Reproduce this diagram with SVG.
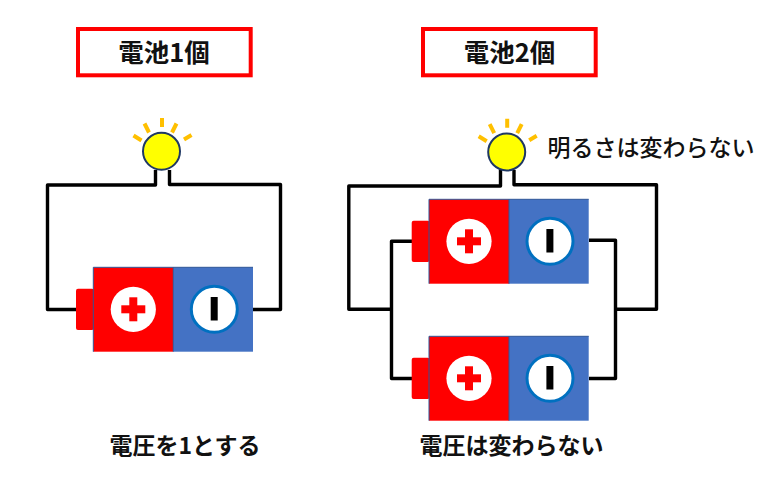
<svg xmlns="http://www.w3.org/2000/svg" width="778" height="482" viewBox="0 0 778 482">
<style>
text{font-family:"Noto Sans CJK JP","Noto Sans CJK SC",sans-serif;fill:#111;font-weight:700}
.title{font-size:25.500px;text-anchor:middle}
.lab{font-size:23px}
.med{font-weight:500}
.box{fill:#fff;stroke:#f00;stroke-width:4}
.wire{fill:none;stroke:#000;stroke-width:3.400;stroke-linejoin:round}
.ray{stroke:#ffc000;stroke-width:4;fill:none}
.bulb{fill:#ff0;stroke:#1f3864;stroke-width:2}
</style>
<defs>
<g id="battery">
<rect x="76" y="288.700" width="18" height="41.300" rx="2" fill="#f00"/>
<rect x="93.300" y="267.300" width="80" height="84.400" fill="#f00"/>
<rect x="173.300" y="267.300" width="79.700" height="84.400" fill="#4472c4"/>
<path d="M93.300 351.700V267.300H253" fill="none" stroke="#2f5597" stroke-width="1"/>
<path d="M173.300 267.300V351.700" fill="none" stroke="#2f5597" stroke-width="1"/>
<circle cx="133.300" cy="309.300" r="22.600" fill="#fff"/>
<rect x="121.300" y="305.300" width="24" height="8" fill="#f00"/>
<rect x="129.300" y="297.300" width="8" height="24" fill="#f00"/>
<circle cx="214.300" cy="309.300" r="23" fill="#fff" stroke="#0070c0" stroke-width="3"/>
<rect x="210.700" y="297" width="7" height="23.500" fill="#000"/>
</g>
<g id="lamp">
<path class="ray" d="M133.500 135.500L141.500 140.500M144.500 123.500L149 132.500M162 118V127M176.500 123.500L172 132.500M191.500 135L184 139.500"/>
<circle class="bulb" cx="161.500" cy="151.300" r="18.500"/>
</g>
</defs>
<g id="connectors">
<path class="wire" d="M155.500 170V185H47.500V309.500H76"/>
<path class="wire" d="M169.500 170V184.500H280.500V309.500H253"/>
<path class="wire" d="M500.500 170V186H348.800V309.300H391.500"/>
<path class="wire" d="M514 170V184.700H656.500V309.300H615.500"/>
<path class="wire" d="M412 241.300H391.500V378.500H412"/>
<path class="wire" d="M589 240.300H615.500V378.500H589"/>
</g>
<g id="title1"><rect class="box" x="78" y="29" width="172.700" height="46.300"/><text class="title" x="164" y="62">電池1個</text></g>
<g id="title2"><rect class="box" x="423" y="29" width="172.700" height="46.300"/><text class="title" x="509.500" y="62">電池2個</text></g>
<g id="bulb1"><use href="#lamp"/></g>
<g id="bulb2"><use href="#lamp" x="345.200" y="0.700"/></g>
<g id="battery1"><use href="#battery"/></g>
<g id="battery2"><use href="#battery" x="335.700" y="-68"/></g>
<g id="battery3"><use href="#battery" x="335.700" y="69"/></g>
<g id="label-bright"><text class="lab med" x="547.500" y="156">明るさは変わらない</text></g>
<g id="label-v1"><text class="lab" x="109.500" y="454">電圧を1とする</text></g>
<g id="label-v2"><text class="lab" x="419.500" y="454">電圧は変わらない</text></g>
</svg>
